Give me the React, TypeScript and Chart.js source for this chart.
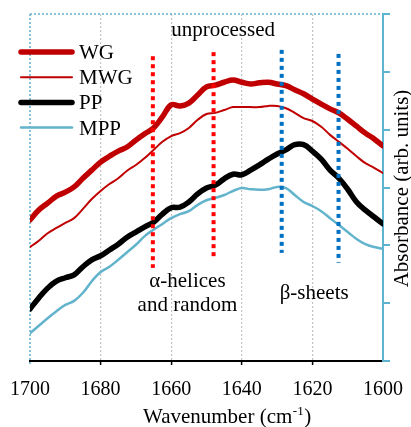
import React, { useEffect, useRef } from "react";
import { Chart, registerables } from "chart.js";

Chart.register(...registerables);

// Wavenumber grid (cm-1), read every 2.5 cm-1
const wavenumbers = [
  1700, 1697.5, 1695, 1692.5, 1690, 1687.5, 1685, 1682.5, 1680, 1677.5,
  1675, 1672.5, 1670, 1667.5, 1665, 1662.5, 1660, 1657.5, 1655, 1652.5,
  1650, 1647.5, 1645, 1642.5, 1640, 1637.5, 1635, 1632.5, 1630, 1627.5,
  1625, 1622.5, 1620, 1617.5, 1615, 1612.5, 1610, 1607.5, 1605, 1602.5, 1600,
];

// Absorbance (arb. units, axis 0–60)
const WG = [
  24.4, 26.1, 27.3, 28.5, 29.2, 30.1, 31.6, 33.0, 34.4, 35.4,
  36.3, 37.0, 38.2, 39.3, 40.3, 42.2, 44.3, 44.1, 44.6, 46.0,
  47.4, 47.7, 48.2, 48.6, 48.2, 47.9, 48.1, 48.2, 47.9, 47.6,
  46.9, 46.2, 45.3, 44.4, 43.6, 42.9, 41.8, 40.6, 39.4, 38.4, 37.2,
];
const MWG = [
  19.7, 20.8, 22.1, 23.0, 23.9, 24.7, 26.3, 28.0, 29.4, 30.6,
  31.6, 32.9, 33.9, 35.1, 36.5, 37.9, 38.9, 39.4, 40.3, 41.7,
  42.7, 42.9, 43.4, 43.9, 43.9, 43.9, 43.9, 44.1, 44.1, 43.7,
  42.9, 42.0, 41.5, 40.5, 39.1, 37.9, 36.7, 35.4, 34.2, 33.4, 32.5,
];
const PP = [
  9.0, 10.9, 12.6, 13.8, 14.4, 14.9, 16.3, 17.5, 18.2, 19.2,
  20.2, 21.4, 22.3, 23.2, 24.0, 25.4, 26.5, 26.6, 27.5, 28.9,
  29.9, 30.4, 31.5, 32.3, 32.2, 33.0, 33.9, 34.9, 35.8, 36.5,
  37.4, 37.4, 36.3, 34.9, 33.0, 31.6, 29.7, 27.5, 26.1, 24.9, 23.7,
];
const MPP = [
  4.8, 6.1, 7.4, 8.6, 9.7, 10.4, 11.8, 13.8, 15.4, 16.3,
  17.5, 18.8, 20.1, 21.6, 22.7, 23.7, 24.7, 25.4, 25.9, 27.0,
  27.8, 28.2, 28.7, 29.4, 29.9, 29.7, 29.6, 29.7, 30.1, 29.9,
  28.7, 27.5, 26.8, 25.9, 24.7, 23.5, 22.3, 21.1, 20.2, 19.7, 19.4,
];

// Band marker lines
const markerWavenumbers = [1665.2, 1648, 1628.7, 1612.6];
const markerTops = [52.7, 53.4, 53.8, 53.1];
const markerBottoms = [16.1, 17.8, 18.7, 17.0];
const markerColors = ["#FF0000", "#FF0000", "#0070C0", "#0070C0"];

const seriesNames = ["WG", "MWG", "PP", "MPP"];
const seriesColors = ["#C00000", "#C00000", "#000000", "#62B3CC"];
const seriesWidths = [5.5, 2, 5.5, 2.5];
const seriesValues = [WG, MWG, PP, MPP];

const xTicks = [1700, 1680, 1660, 1640, 1620, 1600];
const AXIS_BLUE = "#5DB3D0";
const SERIF = "'Liberation Serif', 'Times New Roman', serif";

const decorPlugin = {
  id: "decor",
  beforeDatasetsDraw(chart: any) {
    const { ctx, chartArea: a } = chart;
    ctx.save();
    ctx.strokeStyle = AXIS_BLUE;
    ctx.lineWidth = 1.5;
    ctx.setLineDash([2, 2]);
    ctx.beginPath();
    ctx.moveTo(a.left, a.top);
    ctx.lineTo(a.right, a.top);
    ctx.stroke();
    ctx.beginPath();
    ctx.moveTo(a.left, a.top);
    ctx.lineTo(a.left, a.bottom + 5);
    ctx.stroke();
    ctx.restore();
  },
  afterDraw(chart: any) {
    const { ctx, chartArea: a } = chart;
    const xs = chart.scales.x;
    const ys = chart.scales.y;
    ctx.save();
    ctx.fillStyle = "#000";
    ctx.font = `21px ${SERIF}`;
    ctx.textAlign = "center";
    ctx.textBaseline = "alphabetic";
    // annotations
    ctx.fillText("unprocessed", xs.getPixelForValue(1645.3), ys.getPixelForValue(56.2));
    ctx.fillText("α-helices", xs.getPixelForValue(1655.4), ys.getPixelForValue(12.8));
    ctx.fillText("and random", xs.getPixelForValue(1655.4), ys.getPixelForValue(8.6));
    ctx.fillText("β-sheets", xs.getPixelForValue(1619.5), ys.getPixelForValue(10.7));

    // legend
    const ly0 = a.top + 38;
    seriesNames.forEach((name, i) => {
      const y = ly0 + i * 25.2;
      ctx.save();
      ctx.strokeStyle = seriesColors[i];
      ctx.lineWidth = seriesWidths[i];
      ctx.lineCap = "round";
      ctx.beginPath();
      ctx.moveTo(a.left - 9, y);
      ctx.lineTo(a.left + 42, y);
      ctx.stroke();
      ctx.restore();
      ctx.textAlign = "left";
      ctx.fillText(name, a.left + 49, y + 7);
    });

    // x axis title with superscript
    const bx = 143;
    const by = 423;
    ctx.textAlign = "left";
    ctx.font = `21px ${SERIF}`;
    const t1 = "Wavenumber (cm";
    ctx.fillText(t1, bx, by);
    let cx = bx + ctx.measureText(t1).width;
    ctx.font = `13px ${SERIF}`;
    ctx.fillText("-1", cx + 0.5, by - 8);
    cx += ctx.measureText("-1").width + 1;
    ctx.font = `21px ${SERIF}`;
    ctx.fillText(")", cx, by);

    // right y title (reads bottom to top)
    ctx.save();
    ctx.translate(a.right + 25, (a.top + a.bottom) / 2 + 1);
    ctx.rotate(-Math.PI / 2);
    ctx.textAlign = "center";
    ctx.fillText("Absorbance (arb. units)", 0, 0);
    ctx.restore();
    ctx.restore();
  },
};

export default function App() {
  const canvasRef = useRef<HTMLCanvasElement | null>(null);

  useEffect(() => {
    const canvas = canvasRef.current;
    if (!canvas) return;

    const markerSets = markerWavenumbers.map((wn, i) => ({
      label: "marker" + i,
      data: [
        { x: wn, y: markerTops[i] },
        { x: wn, y: markerBottoms[i] },
      ],
      borderColor: markerColors[i],
      borderWidth: 4,
      borderDash: [4, 4],
      borderCapStyle: "butt" as const,
      pointRadius: 0,
      tension: 0,
      fill: false,
      order: 0,
    }));

    const curveSets = seriesNames.map((name, i) => ({
      label: name,
      data: wavenumbers.map((wn, j) => ({ x: wn, y: seriesValues[i][j] })),
      borderColor: seriesColors[i],
      borderWidth: seriesWidths[i],
      borderJoinStyle: "round" as const,
      borderCapStyle: "round" as const,
      pointRadius: 0,
      tension: 0.4,
      fill: false,
      order: 1,
    }));

    const chart = new Chart(canvas, {
      type: "line",
      data: { datasets: [...markerSets, ...curveSets] as any },
      options: {
        animation: false,
        responsive: false,
        devicePixelRatio: 1,
        layout: { padding: { left: 30, top: 14, right: 0, bottom: 0 } },
        plugins: { legend: { display: false }, tooltip: { enabled: false } },
        scales: {
          x: {
            type: "linear",
            position: "bottom",
            reverse: true,
            min: 1600,
            max: 1700,
            afterBuildTicks: (scale: any) => {
              scale.ticks = xTicks.map((v) => ({ value: v }));
            },
            afterFit: (scale: any) => {
              scale.height = 66;
              scale.paddingLeft = 0;
              scale.paddingRight = 0;
            },
            ticks: {
              autoSkip: false,
              maxRotation: 0,
              padding: 13,
              color: "#000",
              font: { family: SERIF, size: 20 },
              callback: (v: any) => String(v),
            },
            grid: {
              display: true,
              drawOnChartArea: true,
              drawTicks: true,
              tickLength: 4,
              lineWidth: 1.2,
              color: (c: any) =>
                c.tick && (c.tick.value === 1700 || c.tick.value === 1600)
                  ? "rgba(0,0,0,0)"
                  : "#C4C4C4",
              tickColor: (c: any) =>
                c.tick && (c.tick.value === 1700 || c.tick.value === 1600)
                  ? "rgba(0,0,0,0)"
                  : "#000",
              tickWidth: 1.5,
            },
            border: { display: true, color: "#000", width: 2, dash: [2, 2] },
          },
          y: {
            type: "linear",
            position: "right",
            min: 0,
            max: 60,
            afterFit: (scale: any) => {
              scale.width = 28;
              scale.paddingTop = 0;
              scale.paddingBottom = 0;
            },
            ticks: { display: false, stepSize: 10 },
            grid: {
              display: true,
              drawOnChartArea: false,
              drawTicks: true,
              tickLength: 7,
              color: AXIS_BLUE,
              tickColor: AXIS_BLUE,
              tickWidth: 2,
              lineWidth: 2,
            },
            border: { display: true, color: AXIS_BLUE, width: 2 },
          },
        },
      },
      plugins: [decorPlugin],
    });

    return () => chart.destroy();
  }, []);

  return (
    <div style={{ position: "fixed", left: 0, top: 0, width: 411, height: 427, background: "#fff" }}>
      <canvas ref={canvasRef} width={411} height={427} />
    </div>
  );
}
